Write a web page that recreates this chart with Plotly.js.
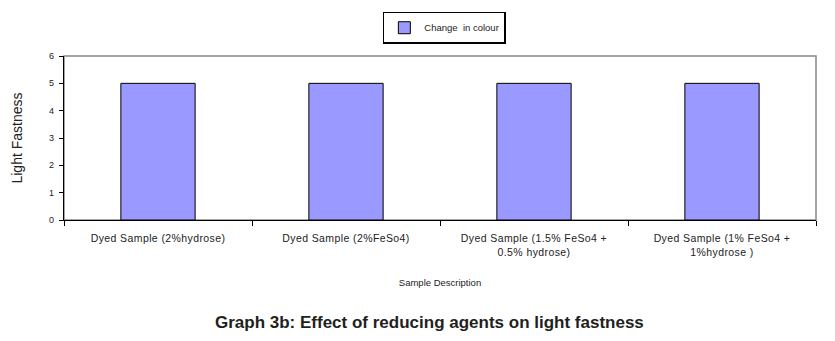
<!DOCTYPE html>
<html>
<head>
<meta charset="utf-8">
<script src="https://cdn.plot.ly/plotly-3.0.1.min.js"></script>
<style>
  html, body { margin: 0; padding: 0; background: #ffffff; }
  #chart { width: 835px; height: 341px; }
  .xtick text { letter-spacing: 0.4px; }
</style>
</head>
<body>
<div id="chart"></div>
<script>
const categories = [
  "Dyed Sample (2%hydrose)",
  "Dyed Sample (2%FeSo4)",
  "Dyed Sample (1.5% FeSo4 +<br>0.5% hydrose)",
  "Dyed Sample (1% FeSo4 +<br>1%hydrose )"
];
const changeInColour = [5, 5, 5, 5];
const seriesName = "Change  in colour";
const yTicks = [0, 1, 2, 3, 4, 5, 6];

const trace = {
  type: "bar",
  x: categories,
  y: changeInColour,
  name: seriesName,
  width: 0.395,
  marker: { color: "#9999ff", line: { color: "#000000", width: 1 } },
  hoverinfo: "x+y"
};

const layout = {
  width: 835,
  height: 341,
  margin: { l: 64, r: 19, t: 51, b: 121 },
  paper_bgcolor: "#ffffff",
  plot_bgcolor: "#ffffff",
  font: { family: "Arial, 'Liberation Sans', sans-serif", color: "#222222" },
  showlegend: true,
  legend: {
    x: 0.424, xanchor: "left",
    y: 1.27, yanchor: "top",
    bgcolor: "#ffffff",
    bordercolor: "#000000",
    borderwidth: 1.5,
    font: { size: 9.5, color: "#222222" },
    itemwidth: 30,
    tracegroupgap: 0
  },
  xaxis: {
    type: "category",
    tickson: "boundaries",
    ticks: "outside",
    ticklen: 5,
    tickcolor: "#000000",
    showline: true,
    linecolor: "#000000",
    linewidth: 1.3,
    showgrid: false,
    ticklabelstandoff: 8,
    tickfont: { size: 10.5, color: "#222222" },
    title: { text: "Sample Description", font: { size: 9.5, color: "#222222" }, standoff: 22 },
    automargin: false
  },
  yaxis: {
    range: [0, 6],
    tickvals: yTicks,
    ticks: "outside",
    ticklen: 4,
    tickcolor: "#000000",
    showline: true,
    linecolor: "#000000",
    linewidth: 1.3,
    showgrid: false,
    zeroline: false,
    ticklabelstandoff: 3,
    tickfont: { size: 9, color: "#222222" },
    title: { text: "Light Fastness", font: { size: 14, color: "#222222" }, standoff: 23 },
    automargin: false
  },
  shapes: [{
    type: "rect", xref: "paper", yref: "paper",
    x0: 0, x1: 1, y0: 0, y1: 1,
    line: { color: "#888888", width: 1.5 },
    layer: "below"
  }],
  annotations: [{
    text: "<b>Graph 3b: Effect of reducing agents on light fastness</b>",
    xref: "paper", yref: "paper",
    x: (429 - 64) / 752, y: -0.625,
    xanchor: "center", yanchor: "middle",
    showarrow: false,
    font: { size: 17, color: "#231f20", family: "Arial, 'Liberation Sans', sans-serif" }
  }]
};

Plotly.newPlot("chart", [trace], layout, { displayModeBar: false, staticPlot: true });
</script>
</body>
</html>
